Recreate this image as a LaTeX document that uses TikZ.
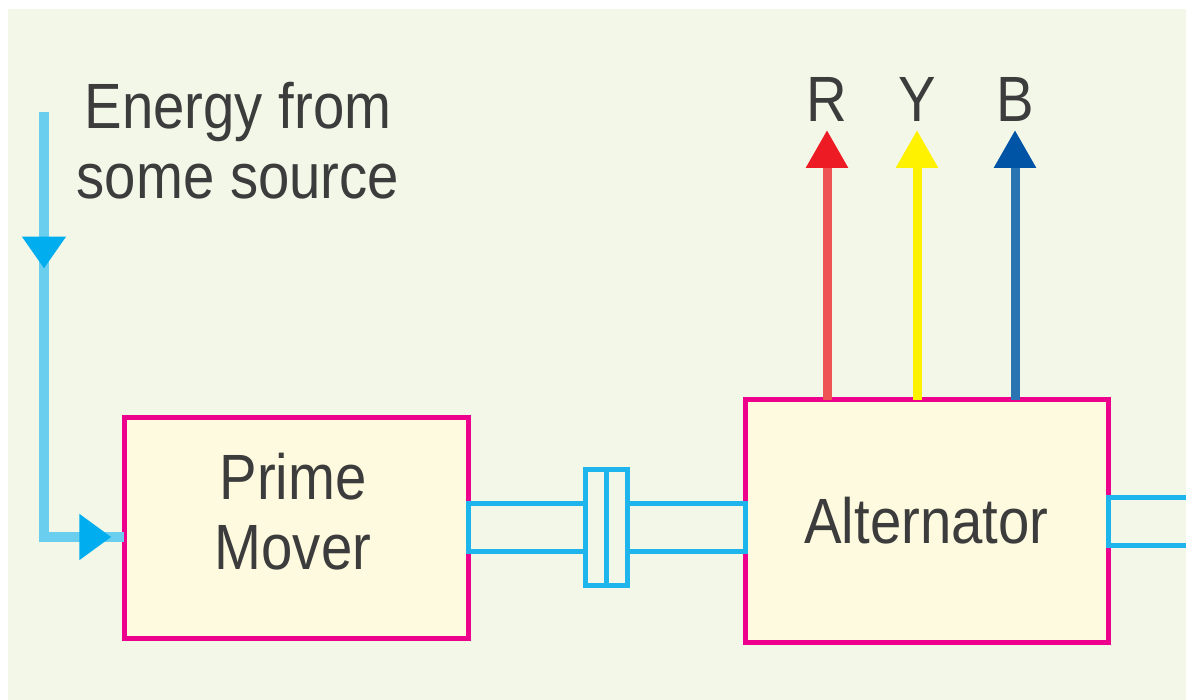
\documentclass[tikz,border=0pt]{standalone}
\usepackage{fontspec}
\setmainfont{Liberation Sans}[FakeStretch=0.88]
\usepackage{tikz}
\usetikzlibrary{arrows.meta, decorations.markings}
\definecolor{bgc}{HTML}{F3F7E8}
\definecolor{boxc}{HTML}{FEFADF}
\definecolor{edgec}{HTML}{EC008C}
\definecolor{shaftc}{HTML}{1EB4EC}
\definecolor{feedc}{HTML}{6ACEEF}
\definecolor{headc}{HTML}{00AEEF}
\definecolor{txtc}{HTML}{3C3C3C}
\definecolor{rc}{HTML}{EF5454}
\definecolor{rh}{HTML}{ED1C24}
\definecolor{yc}{HTML}{FFF200}
\definecolor{bc}{HTML}{2B74B4}
\definecolor{bh}{HTML}{0054A6}

\begin{document}
\begin{tikzpicture}[x=1pt, y=-1pt,
    block/.style={draw=edgec, fill=boxc, line width=5pt, inner sep=0pt, outer sep=0pt},
    shaft/.style={draw=shaftc, line width=5pt, inner sep=0pt, outer sep=0pt},
    lbl/.style={text=txtc, inner sep=0pt, align=center, font=\fontsize{64}{70}\selectfont},
    feed/.style={draw=feedc, line width=10pt, postaction={decorate},
        decoration={markings,
            mark=at position 0.31 with {\arrow[headc]{Triangle[length=32pt,width=42pt]}},
            mark=at position 0.975 with {\arrow[headc]{Triangle[length=32pt,width=44pt]}}}}]
    \useasboundingbox (0,0) rectangle (1186,700);
    \fill[white] (0,0) rectangle (1186,700);
    \fill[bgc] (8,9) rectangle (1186,700);

    % blocks
    \node[block, minimum width=344pt, minimum height=221pt] (PM) at (296,527.5) {};
    \node[lbl, anchor=north] (PMt) at (293,453) {Prime\\Mover};
    \node[block, minimum width=363pt, minimum height=242pt] (ALT) at (926.5,521) {};
    \node[lbl] (ALTt) at (ALT.center) {Alternator};

    % shafts and coupling
    \node[shaft, anchor=west, minimum width=117pt, minimum height=48pt] (S1) at (PM.east) {};
    \node[shaft, anchor=west, minimum width=21pt, minimum height=116pt] (C1) at (S1.east) {};
    \node[shaft, anchor=west, minimum width=21pt, minimum height=116pt] (C2) at (C1.east) {};
    \draw[shaft] (C2.east |- S1.north) rectangle (ALT.west |- S1.south);
    \node[shaft, anchor=west, minimum width=100pt, minimum height=48pt] (S3) at (ALT.east) {};

    % energy input
    \node[lbl, anchor=north] (E) at (238,82) {Energy from\\some source};
    \coordinate (src) at (44,112);
    \coordinate (bend) at (44,537);
    \draw[feed] (src) -- (bend) -- (PM.west |- bend);

    % three phase outputs
    \foreach \x/\p/\lc/\hc in {827/R/rc/rh, 917/Y/yc/yc, 1015/B/bc/bh}{
        \coordinate (T\p) at (\x,130);
        \draw[draw=\lc, line width=9pt, -{Triangle[length=38pt,width=40pt,color=\hc]}]
            (ALT.north -| T\p) -- (T\p);
        \node[lbl, anchor=base] (L\p) at (\x,122) {\p};
    }
\end{tikzpicture}
\end{document}
